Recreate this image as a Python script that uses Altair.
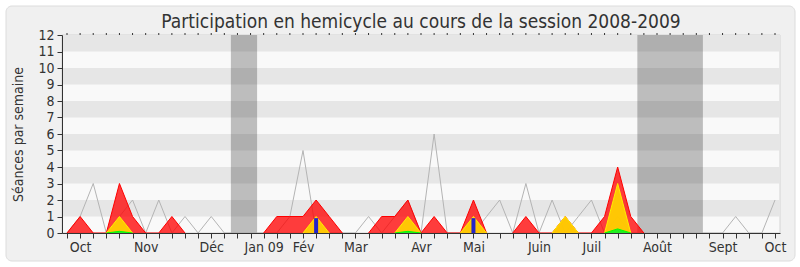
import json
import altair as alt
import pandas as pd

# ---- data (one value per week, session 2008-2009) ----
weeks = list(range(55))
red = [0, 1, 0, 0, 3, 1, 0, 0, 1, 0,
       0, 0, 0, 0, 0, 0, 1, 1, 1, 2,
       1, 0, 0, 0, 1, 1, 2, 0, 1, 0,
       0, 2, 0, 0, 0, 1, 0, 0, 1, 0,
       0, 1, 4, 1, 0, 0, 0, 0, 0, 0,
       0, 0, 0, 0, 0]
yellow = [0, 0, 0, 0, 1, 0, 0, 0, 0, 0,
          0, 0, 0, 0, 0, 0, 0, 0, 0, 1,
          0, 0, 0, 0, 0, 0, 1, 0, 0, 0,
          0, 1, 0, 0, 0, 0, 0, 0, 1, 0,
          0, 0, 3, 0, 0, 0, 0, 0, 0, 0,
          0, 0, 0, 0, 0]
green = [0, 0, 0, 0, 0.1, 0, 0, 0, 0, 0,
         0, 0, 0, 0, 0, 0, 0, 0, 0, 0,
         0, 0, 0, 0, 0, 0, 0.1, 0, 0, 0,
         0, 0, 0, 0, 0, 0, 0, 0, 0, 0,
         0, 0, 0.25, 0, 0, 0, 0, 0, 0, 0,
         0, 0, 0, 0, 0]
gray = [0, 1, 3, 0, 1, 2, 0, 2, 0, 1,
        0, 1, 0, 0, 0, 0, 0, 1, 5, 0,
        0, 0, 0, 1, 0, 1, 2, 0, 6, 0,
        0, 0, 1, 2, 0, 3, 0, 2, 0, 1,
        2, 0, 1, 0, 0, 0, 0, 0, 0, 0,
        0, 1, 0, 0, 2]
blue = [0] * 55
blue[19] = 0.9
blue[31] = 0.9

tick_labels = [""] * 55
for k, v in {1: "Oct", 6: "Nov", 11: "Déc", 15: "Jan 09", 18: "Fév", 22: "Mar",
             27: "Avr", 31: "Mai", 36: "Juin", 40: "Juil", 45: "Août",
             50: "Sept", 54: "Oct"}.items():
    tick_labels[k] = v

break_start = [12.5, 43.5]
break_end = [14.5, 48.5]
band_lo = [1, 3, 5, 7, 9, 11]
band_hi = [2, 4, 6, 8, 10, 12]

df = pd.DataFrame({"week": weeks, "red": red, "yellow": yellow, "green": green,
                   "gray": gray, "blue": blue})
breaks = pd.DataFrame({"start": break_start, "end": break_end})
bands = pd.DataFrame({"lo": band_lo, "hi": band_hi})

FONT = "DejaVu Sans Condensed"
TXT = "#333333"
W, H = 718, 198

xscale = alt.Scale(domain=[0, 54], nice=False, zero=False)
yscale = alt.Scale(domain=[0, 12], nice=False)

label_arr = json.dumps(tick_labels, ensure_ascii=False)
xaxis = alt.Axis(values=weeks, labelExpr=f"{label_arr}[datum.value]", title=None,
                 tickSize=5, tickColor=TXT, domainColor=TXT, labelColor=TXT,
                 labelFont=FONT, labelFontSize=14, labelPadding=2, grid=False,
                 labelOverlap=False, labelFlush=False, labelBound=False, zindex=2)
yaxis = alt.Axis(values=list(range(13)), title="Séances par semaine", tickSize=5,
                 tickColor=TXT, domainColor=TXT, labelColor=TXT, labelFont=FONT,
                 labelFontSize=14, labelPadding=3, titleFont=FONT, titleFontSize=14,
                 titleFontWeight="normal", titleColor=TXT, titlePadding=12,
                 labelOverlap=False, grid=False, zindex=2)


def X(field):
    return alt.X(field, scale=xscale, axis=xaxis)


def Y(field):
    return alt.Y(field, scale=yscale, axis=yaxis)


base = alt.Chart(df)


def series_area(col, fill, opacity, stroke):
    # hide the flat zero stretches between peaks (break the path there)
    return base.transform_window(
        prev=f"lag({col})", nxt=f"lead({col})", sort=[alt.SortField("week")]
    ).transform_calculate(
        v=f"(datum.{col} > 0 || datum.prev > 0 || datum.nxt > 0) ? datum.{col} : null"
    ).mark_area(fill=fill, fillOpacity=opacity, invalid="break-paths-show-domains",
                line={"color": stroke, "strokeWidth": 1}).encode(
        x=X("week:Q"), y=Y("v:Q"))


frame = base.mark_rect(fill="#f0f0f0", stroke="#dcdcdc", strokeWidth=1, cornerRadius=6).encode(
    x=alt.value(-56), x2=alt.value(733), y=alt.value(-29), y2=alt.value(226)
).transform_filter("datum.week == 0")

plot_bg = base.mark_rect(fill="#f9f9f9", stroke="#d4d4d4", strokeWidth=1).encode(
    x=alt.value(0), x2=alt.value(W), y=alt.value(0), y2=alt.value(H)
).transform_filter("datum.week == 0")

hbands = alt.Chart(bands).mark_rect(fill="#e6e6e6").encode(
    x=alt.value(0), x2=alt.value(W), y=Y("lo:Q"), y2="hi:Q")

vbands = alt.Chart(breaks).mark_rect(fill="#000000", fillOpacity=0.24).encode(
    x=X("start:Q"), x2="end:Q", y=alt.value(0), y2=alt.value(H))

gray_line = base.mark_line(color="#b4b4b4", strokeWidth=1).encode(
    x=X("week:Q"), y=Y("gray:Q"))

red_area = series_area("red", "#ff0000", 0.76, "#ff0000")
yellow_area = series_area("yellow", "#ffd200", 0.93, "#ffee00")
green_area = series_area("green", "#22ee22", 1, "#00ff00")

blue_bar = base.mark_bar(color="#2424c8", width=4).encode(
    x=X("week:Q"), y=Y("blue:Q")).transform_filter("datum.blue > 0")

top_ticks = base.mark_rule(color=TXT, strokeWidth=1).encode(
    x=X("week:Q"), y=alt.value(-2), y2=alt.value(0))

chart = alt.layer(
    frame, plot_bg, hbands, vbands, gray_line, red_area, yellow_area, green_area,
    blue_bar, top_ticks
).properties(
    width=W, height=H,
    title=alt.TitleParams("Participation en hemicycle au cours de la session 2008-2009",
                          font=FONT, fontSize=19, fontWeight="normal", color=TXT,
                          anchor="middle", frame="group", baseline="alphabetic",
                          offset=8, dy=49),
    autosize=alt.AutoSizeParams(type="none"),
    padding={"left": 62, "top": 35, "right": 20, "bottom": 34},
    background="#ffffff",
).configure_view(stroke=None)

chart.save("out.html", embed_options={"renderer": "svg", "actions": False})
